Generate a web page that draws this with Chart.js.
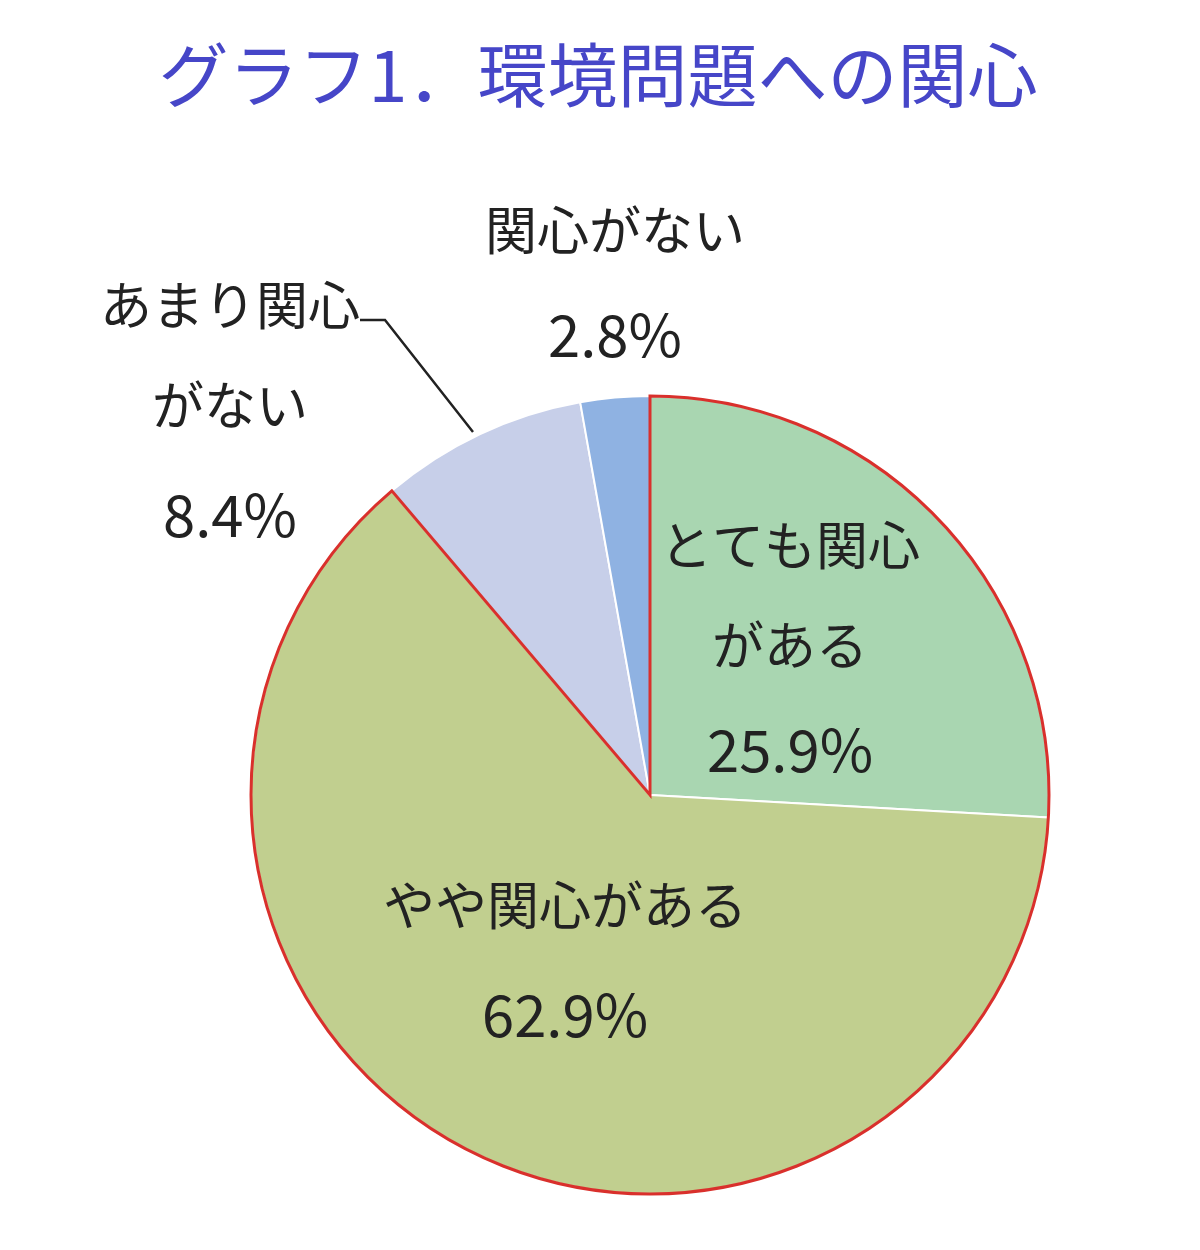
<!DOCTYPE html>
<html><head><meta charset="utf-8">
<script src="https://cdn.jsdelivr.net/npm/chart.js@4/dist/chart.umd.min.js"></script>
<style>body{margin:0;background:#fff}#wrap{width:1200px;height:1250px}</style>
</head><body>
<div id="wrap"><canvas id="pie" width="1200" height="1250"></canvas></div>
<script>
const labels = ['とても関心がある', 'やや関心がある', 'あまり関心がない', '関心がない'];
const values = [25.9, 62.9, 8.4, 2.8];
const colors = ['#a9d6b1', '#c1cf8f', '#c7cfe9', '#8fb2e2'];
const labelLines = [
  ['とても関心', 'がある', '25.9%'],
  ['やや関心がある', '62.9%'],
  ['あまり関心', 'がない', '8.4%'],
  ['関心がない', '2.8%']
];
const FONT = '"Noto Sans CJK JP", sans-serif';

const decor = {
  id: 'decor',
  afterDatasetsDraw(chart) {
    const ctx = chart.ctx;
    const arcs = chart.getDatasetMeta(0).data;
    const a0 = arcs[0], a1 = arcs[1];
    const cx = a0.x, cy = a0.y, r = a0.outerRadius;
    // red outline around the "interested" slices
    ctx.save();
    ctx.strokeStyle = '#d9302c';
    ctx.lineWidth = 3;
    ctx.beginPath();
    ctx.moveTo(cx, cy);
    ctx.arc(cx, cy, r, a0.startAngle, a1.endAngle);
    ctx.closePath();
    ctx.stroke();

    ctx.fillStyle = '#222';
    ctx.textAlign = 'center';
    ctx.textBaseline = 'middle';
    const pos = [
      [cx + 140, [cy - 250, cy - 150, cy - 45]],
      [cx - 85, [cy + 110, cy + 220]],
      [cx - 420, [cy - 490, cy - 390, cy - 280]],
      [cx - 35, [cy - 565, cy - 460]]
    ];
    labelLines.forEach((lines, i) => {
      lines.forEach((t, j) => {
        ctx.font = (/%/.test(t) ? '58px ' : '52px ') + FONT;
        ctx.fillText(t, pos[i][0], pos[i][1][j]);
      });
    });
    // leader line for small slice
    ctx.strokeStyle = '#222';
    ctx.lineWidth = 2.5;
    ctx.beginPath();
    ctx.moveTo(cx - 290, cy - 475);
    ctx.lineTo(cx - 265, cy - 475);
    ctx.lineTo(cx - 177, cy - 363);
    ctx.stroke();

    // title
    ctx.fillStyle = '#4646c8';
    ctx.font = '70px ' + FONT;
    ctx.fillText('グラフ1．環境問題への関心', 598, 75);
    ctx.restore();
  }
};

new Chart(document.getElementById('pie'), {
  type: 'pie',
  data: {
    labels: labels,
    datasets: [{
      data: values,
      backgroundColor: colors,
      borderColor: '#ffffff',
      borderWidth: 2
    }]
  },
  options: {
    responsive: false,
    animation: false,
    layout: { padding: { left: 100, top: 395, bottom: 55, right: 0 } },
    plugins: { legend: { display: false }, tooltip: { enabled: false } }
  },
  plugins: [decor]
});
</script>
</body></html>
